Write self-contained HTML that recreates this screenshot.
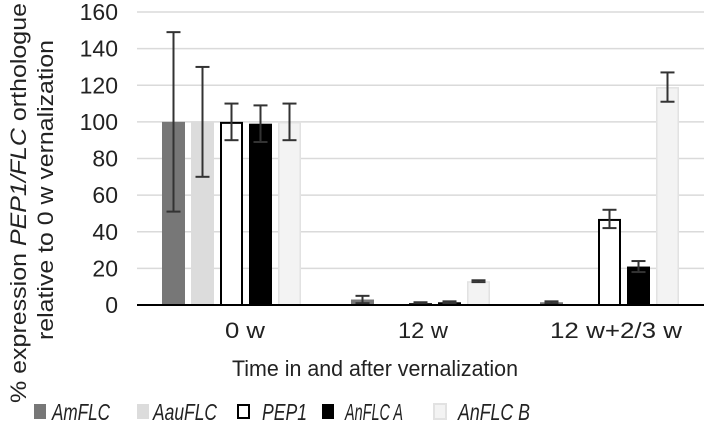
<!DOCTYPE html>
<html><head><meta charset="utf-8"><style>
body{margin:0;background:#fff;}
svg{display:block;font-family:"Liberation Sans",sans-serif;}
</style></head><body>
<svg id="chart" width="709" height="424" viewBox="0 0 709 424">
<g id="grid"></g><g id="bars"></g><g id="axes"></g>
<text transform="translate(26,203) rotate(-90)" text-anchor="middle" font-size="22" fill="#222" textLength="400" lengthAdjust="spacingAndGlyphs">% expression <tspan font-style="italic">PEP1/FLC</tspan> orthologue</text>
<text transform="translate(53,190) rotate(-90)" text-anchor="middle" font-size="22" fill="#222" textLength="300" lengthAdjust="spacingAndGlyphs">relative to 0 w vernalization</text>
<text x="375" y="376" text-anchor="middle" font-size="22" fill="#222" textLength="286" lengthAdjust="spacingAndGlyphs">Time in and after vernalization</text>
<g id="legend"></g>
</svg>
<script>
const categories=["0 w","12 w","12 w+2/3 w"];
const seriesNames=["AmFLC","AauFLC","PEP1","AnFLC A","AnFLC B"];
const amflc=[100,3,1.5];
const aauflc=[100,0.3,0.3];
const pep1=[100,1,47];
const anflcA=[99,1.5,21];
const anflcB=[100,13,119];
const errAmflc=[49,2,0.5];
const errAauflc=[30,0,0];
const errPep1=[10,0.5,5];
const errAnflcA=[10,0.5,3];
const errAnflcB=[10,0.5,8];
const yTicks=[0,20,40,60,80,100,120,140,160];
const series=[amflc,aauflc,pep1,anflcA,anflcB];
const errs=[errAmflc,errAauflc,errPep1,errAnflcA,errAnflcB];
const fills=["#777","#dcdcdc","#fff","#000","#f3f3f3"];
const strokes=["none","none","#000","none","#e2e2e2"];
const NS="http://www.w3.org/2000/svg";
const x0=137,x1=704,y0=305,yTop=12,ymax=160;
const gw=(x1-x0)/categories.length,pitch=29,bw=23;
function yS(v){return y0-(v/ymax)*(y0-yTop);}
function gC(i){return x0+gw*(i+0.5);}
function mk(t,a,p){const e=document.createElementNS(NS,t);for(const k in a)e.setAttribute(k,a[k]);p.appendChild(e);return e;}
const grid=document.getElementById('grid'),bars=document.getElementById('bars'),axes=document.getElementById('axes'),legend=document.getElementById('legend');
yTicks.forEach(v=>{
 if(v>0){const l=mk('line',{x1:x0,x2:x1,y1:yS(v),y2:yS(v),stroke:'#dadada','stroke-width':1.5},grid);
 
 }
 const t=mk('text',{x:118,y:yS(v)+8,'text-anchor':'end','font-size':23,fill:'#222'},axes);
 t.textContent=v;
 
 
});
series.forEach((s,si)=>{
 s.forEach((v,ci)=>{
  const cx=gC(ci)+(si-2)*pitch;
  const sw=strokes[si]==="none"?0:(si===2?2:1.5);
  const r=mk('rect',{x:cx-bw/2+sw/2,y:yS(v)+sw/2,width:bw-sw,height:Math.max(0,y0-yS(v)-sw/2),fill:fills[si],stroke:strokes[si],'stroke-width':sw},bars);
  
  
  const e=errs[si][ci];
  if(e>0){
   const g=mk('g',{stroke:'#333','stroke-width':2},bars);
   
   
   mk('line',{x1:cx,x2:cx,y1:yS(v+e),y2:yS(v-e)},g);
   mk('line',{x1:cx-7,x2:cx+7,y1:yS(v+e),y2:yS(v+e)},g);
   mk('line',{x1:cx-7,x2:cx+7,y1:yS(v-e),y2:yS(v-e)},g);
  }
 });
});
const ax=mk('line',{x1:x0,x2:x1,y1:y0,y2:y0,stroke:'#000','stroke-width':2},axes);


const lblX=[245,423,616];
const lblW=[40,50,132];
categories.forEach((c,i)=>{
 const t=mk('text',{x:lblX[i],y:338,'text-anchor':'middle','font-size':22,fill:'#222',textLength:lblW[i],lengthAdjust:'spacingAndGlyphs'},axes);
 t.textContent=c;
 
 
});
const legX=[34,137,237,322,434];
const legTX=[52,153,262,345,458];
const legTW=[58,64,45,58,72];
seriesNames.forEach((n,i)=>{
 const g=mk('g',{},legend);
 
 
 mk('rect',{x:legX[i]+(i===2?1:0),y:404+(i===2?1:0),width:i===2?11:12,height:i===2?13:15,fill:fills[i],stroke:i===2?'#000':(i===4?'#e2e2e2':'none'),'stroke-width':2},g);
 const t=mk('text',{x:legTX[i],y:420,'font-size':23,'font-style':'italic',fill:'#222',textLength:legTW[i],lengthAdjust:'spacingAndGlyphs'},g);
 t.textContent=n;
});
</script>
</body></html>
